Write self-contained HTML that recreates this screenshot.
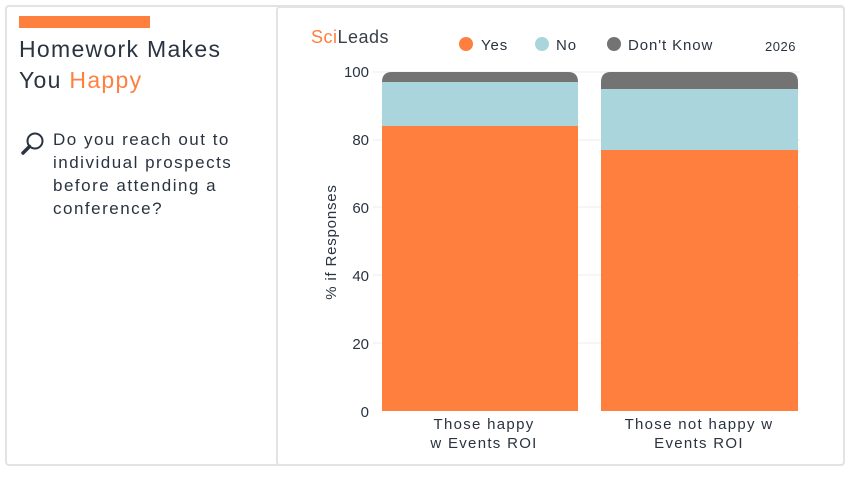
<!DOCTYPE html><html><head><style>
body{margin:0;width:850px;height:477px;background:#fff;font-family:"Liberation Sans",sans-serif;color:#2a3340;position:relative;overflow:hidden}
.card{position:absolute;border:2px solid #e3e3e3;border-radius:4px;box-sizing:border-box}
.t{position:absolute}
</style></head><body>
<div class="card" style="left:5px;top:5px;width:840px;height:461px"></div>
<div class="card" style="left:276px;top:6px;width:569px;height:460px;border-left-width:2px"></div>
<div class="t" style="left:19px;top:16px;width:131px;height:12px;background:#ff7f3f"></div>
<div class="t" style="left:19px;top:34px;font-size:23px;line-height:31px;letter-spacing:1.3px">Homework Makes<br>You <span style="color:#ff7f3f">Happy</span></div>
<svg class="t" style="left:20px;top:131px" width="26" height="26" viewBox="0 0 26 26"><circle cx="15" cy="10" r="7.5" fill="none" stroke="#2a3340" stroke-width="2"/><line x1="9.5" y1="15.5" x2="3" y2="22" stroke="#2a3340" stroke-width="3.5" stroke-linecap="round"/></svg>
<div class="t" style="left:53px;top:128px;font-size:17px;line-height:23px;letter-spacing:1.5px">Do you reach out to<br>individual prospects<br>before attending a<br>conference?</div>
<div class="t" style="left:311px;top:27px;font-size:18px;color:#3a3f48;letter-spacing:0.5px"><span style="color:#ff7f3f">Sci</span>Leads</div>
<svg class="t" style="left:0;top:0" width="850" height="477">
<g font-size="15" fill="#2a3340" letter-spacing="0.9">
<circle cx="466" cy="44" r="7" fill="#ff7f3f"/><text x="481" y="50">Yes</text>
<circle cx="542" cy="44" r="7" fill="#abd5dc"/><text x="556" y="50">No</text>
<circle cx="614" cy="44" r="7" fill="#737373"/><text x="628" y="50">Don't Know</text>
<text x="765" y="51" font-size="13" letter-spacing="0.5">2026</text>
</g>
<g stroke="#ececec" stroke-width="1">
<line x1="373" x2="800" y1="72" y2="72"/><line x1="373" x2="800" y1="140" y2="140"/><line x1="373" x2="800" y1="207" y2="207"/><line x1="373" x2="800" y1="275" y2="275"/><line x1="373" x2="800" y1="343" y2="343"/></g>
<g font-size="15" fill="#2a3340" text-anchor="end">
<text x="369" y="77">100</text><text x="369" y="145">80</text><text x="369" y="213">60</text><text x="369" y="281">40</text><text x="369" y="349">20</text><text x="369" y="417">0</text></g>
<text transform="translate(336,242) rotate(-90)" text-anchor="middle" font-size="15" fill="#2a3340" letter-spacing="0.8">% if Responses</text>
<path d="M382 82 V82 Q382 72 392 72 H568 Q578 72 578 82 V82Z" fill="#737373"/>
<rect x="382" y="82" width="196" height="44" fill="#abd5dc"/>
<rect x="382" y="126" width="196" height="285" fill="#ff7f3f"/>
<path d="M601 89 V82 Q601 72 611 72 H788 Q798 72 798 82 V89Z" fill="#737373"/>
<rect x="601" y="89" width="197" height="61" fill="#abd5dc"/>
<rect x="601" y="150" width="197" height="261" fill="#ff7f3f"/>
<g font-size="15" fill="#2a3340" text-anchor="middle" letter-spacing="1.3">
<text x="484" y="429">Those happy</text><text x="484" y="448">w Events ROI</text>
<text x="699" y="429">Those not happy w</text><text x="699" y="448">Events ROI</text></g>
</svg>
</body></html>
